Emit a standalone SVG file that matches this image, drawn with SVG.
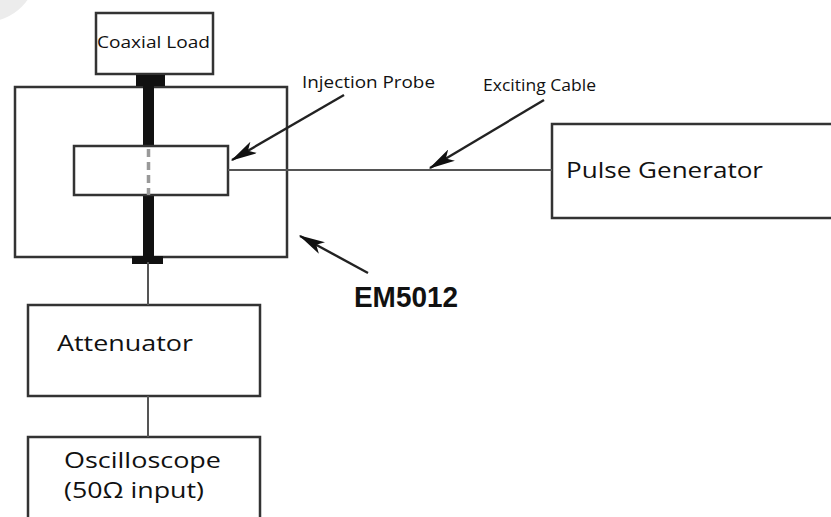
<svg xmlns="http://www.w3.org/2000/svg" width="831" height="517" viewBox="0 0 831 517">
<style>
.box{fill:#fff;stroke:#333;stroke-width:2.5}
.ln{stroke:#555;stroke-width:2;fill:none}
.arr{stroke:#222;stroke-width:2.4;fill:none;marker-end:url(#ah)}
.t{font-family:"Open Sans","Noto Sans","Liberation Sans",sans-serif;fill:#111}
.bar{fill:#111}
</style>
<defs>
<marker id="ah" viewBox="0 0 20 10" refX="19" refY="5" markerWidth="11" markerHeight="5.5" orient="auto" markerUnits="strokeWidth">
<path d="M0,0 L20,5 L0,10 L5,5 Z" fill="#111"/>
</marker>
</defs>
<rect width="831" height="517" fill="#fff"/>
<circle cx="-15" cy="-30" r="52" fill="#ececec"/>
<g id="em5012">
<rect class="box" x="15" y="87" width="272" height="170"/>
</g>
<g id="coaxial-load">
<rect class="box" x="96" y="13" width="117" height="61"/>
<text class="t" x="97" y="48" font-size="16" textLength="113" lengthAdjust="spacingAndGlyphs">Coaxial Load</text>
</g>
<g id="coax-conductor">
<rect class="bar" x="136" y="75" width="29" height="11"/>
<rect class="bar" x="143" y="86" width="11" height="61"/>
<rect class="bar" x="143" y="195" width="11" height="62"/>
<rect class="bar" x="132" y="256" width="31" height="8"/>
</g>
<g id="injection-probe">
<rect class="box" x="74" y="146" width="154" height="49"/>
<line x1="148.5" y1="149" x2="148.5" y2="195" stroke="#999" stroke-width="3.5" stroke-dasharray="8,5"/>
</g>
<g id="pulse-generator">
<rect class="box" x="552" y="124" width="300" height="94"/>
<text class="t" x="566" y="178" font-size="22.5" textLength="197" lengthAdjust="spacingAndGlyphs">Pulse Generator</text>
</g>
<g id="attenuator">
<rect class="box" x="28" y="305" width="232" height="91"/>
<text class="t" x="57" y="351" font-size="22.5" textLength="136" lengthAdjust="spacingAndGlyphs">Attenuator</text>
</g>
<g id="oscilloscope">
<rect class="box" x="28" y="437" width="232" height="100"/>
<text class="t" x="64" y="468" font-size="22.5" textLength="157" lengthAdjust="spacingAndGlyphs">Oscilloscope</text>
<text class="t" x="64" y="498" font-size="22.5" textLength="140" lengthAdjust="spacingAndGlyphs">(50Ω input)</text>
</g>
<g id="labels">
<text class="t" x="302" y="88" font-size="16" textLength="133" lengthAdjust="spacingAndGlyphs">Injection Probe</text>
<text class="t" x="483" y="91" font-size="15.5" textLength="113" lengthAdjust="spacingAndGlyphs">Exciting Cable</text>
<text x="354" y="307" font-family="'Liberation Sans',Arial,sans-serif" font-weight="bold" font-size="29" fill="#111" textLength="104" lengthAdjust="spacingAndGlyphs">EM5012</text>
</g>
<g id="connectors">
<line class="ln" x1="228" y1="170" x2="552" y2="170"/>
<line class="ln" x1="148" y1="262" x2="148" y2="305"/>
<line class="ln" x1="148" y1="396" x2="148" y2="437"/>
<line class="arr" x1="344" y1="95" x2="232" y2="160"/>
<line class="arr" x1="544" y1="100" x2="430" y2="168"/>
<line class="arr" x1="368" y1="273" x2="300" y2="236"/>
</g>
</svg>
